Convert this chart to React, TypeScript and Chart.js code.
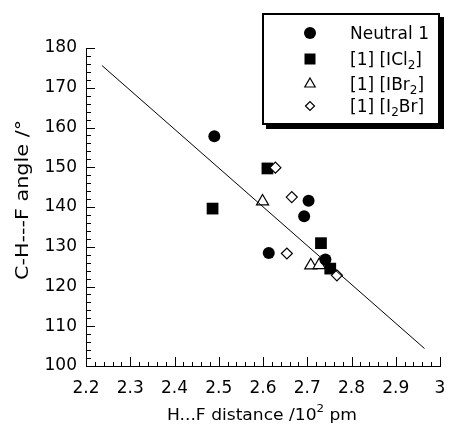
import React, { useEffect, useRef } from 'react';
import { Chart, registerables } from 'chart.js';

Chart.register(...registerables);

// ---- data ----
const neutralX = [2.49, 2.613, 2.703, 2.693, 2.741];
const neutralY = [157.8, 128.4, 141.6, 137.7, 126.8];
const icl2X = [2.486, 2.61, 2.731, 2.752];
const icl2Y = [139.6, 149.7, 130.9, 124.5];
const ibr2X = [2.599, 2.708, 2.727];
const ibr2Y = [141.4, 125.3, 125.4];
const i2brX = [2.628, 2.665, 2.654, 2.767];
const i2brY = [149.9, 142.5, 128.3, 122.8];
const fitX = [2.236, 2.965];
const fitY = [175.6, 104.4];

const xTitleMain = 'H...F distance /10';
const xTitleSup = '2';
const xTitleEnd = ' pm';
const yTitle = 'C-H---F angle /\u00B0';

const legendLabels: [string, string][][] = [
  [['Neutral 1', 'n']],
  [['[1] [ICl', 'n'], ['2', 'sub'], [']', 'n']],
  [['[1] [IBr', 'n'], ['2', 'sub'], [']', 'n']],
  [['[1] [I', 'n'], ['2', 'sub'], ['Br]', 'n']],
];

const FONT = '"DejaVu Sans", "Liberation Sans", Arial, sans-serif';

const toPts = (xs: number[], ys: number[]) => xs.map((x, i) => ({ x, y: ys[i] }));

const decorPlugin = {
  id: 'decor',
  afterDraw(chart: any) {
    const ctx = chart.ctx as CanvasRenderingContext2D;
    const xs = chart.scales.x;
    const ys = chart.scales.y;
    const { left, bottom } = chart.chartArea;
    ctx.save();
    ctx.strokeStyle = '#000';
    ctx.lineWidth = 1;
    // inward ticks x
    for (let i = 0; i <= 40; i++) {
      const v = 2.2 + i * 0.02;
      const px = Math.round(xs.getPixelForValue(v)) + 0.5;
      const len = i % 5 === 0 ? 9 : 4;
      ctx.beginPath();
      ctx.moveTo(px, bottom);
      ctx.lineTo(px, bottom - len);
      ctx.stroke();
    }
    for (let i = 0; i <= 40; i++) {
      const v = 100 + i * 2;
      const py = Math.round(ys.getPixelForValue(v)) + 0.5;
      const len = i % 5 === 0 ? 9 : 5;
      ctx.beginPath();
      ctx.moveTo(left, py);
      ctx.lineTo(left + len, py);
      ctx.stroke();
    }
    // x axis title (stretched to match reference width)
    ctx.fillStyle = '#000';
    ctx.textBaseline = 'alphabetic';
    ctx.textAlign = 'left';
    ctx.font = `16px ${FONT}`;
    const w1 = ctx.measureText(xTitleMain).width;
    ctx.font = `11px ${FONT}`;
    const w2 = ctx.measureText(xTitleSup).width;
    ctx.font = `16px ${FONT}`;
    const w3 = ctx.measureText(xTitleEnd).width;
    const total = w1 + w2 + w3;
    const targetW = 190;
    const sx = targetW / total;
    ctx.save();
    ctx.translate(262 - targetW / 2, 420);
    ctx.scale(sx, 1);
    let tx = 0;
    ctx.fillText(xTitleMain, tx, 0);
    tx += w1;
    ctx.font = `11px ${FONT}`;
    ctx.fillText(xTitleSup, tx, -8);
    tx += w2;
    ctx.font = `16px ${FONT}`;
    ctx.fillText(xTitleEnd, tx, 0);
    ctx.restore();

    // y axis title
    ctx.save();
    ctx.font = `17px ${FONT}`;
    const wy = ctx.measureText(yTitle).width;
    const targetY = 160;
    ctx.translate(28, 200);
    ctx.rotate(-Math.PI / 2);
    ctx.scale(targetY / wy, 1);
    ctx.textAlign = 'center';
    ctx.textBaseline = 'alphabetic';
    ctx.fillText(yTitle, 0, 0);
    ctx.restore();

    // legend box with shadow
    const bx = 262, by = 13, bw = 178, bh = 112;
    ctx.fillStyle = '#000';
    ctx.fillRect(bx + 4, by + 4, bw, bh);
    ctx.fillStyle = '#fff';
    ctx.fillRect(bx, by, bw, bh);
    ctx.lineWidth = 2;
    ctx.strokeStyle = '#000';
    ctx.strokeRect(bx + 1, by + 1, bw - 2, bh - 2);

    const rows = [33, 59, 84, 106];
    const mx = 310;
    ctx.lineWidth = 1.2;
    // circle
    ctx.fillStyle = '#000';
    ctx.beginPath();
    ctx.arc(mx, rows[0], 6, 0, Math.PI * 2);
    ctx.fill();
    // square
    ctx.fillRect(mx - 5.5, rows[1] - 5.5, 11, 11);
    // triangle
    ctx.beginPath();
    const tr = 6;
    ctx.moveTo(mx, rows[2] - tr);
    ctx.lineTo(mx + tr * 0.866, rows[2] + tr / 2);
    ctx.lineTo(mx - tr * 0.866, rows[2] + tr / 2);
    ctx.closePath();
    ctx.fillStyle = '#fff';
    ctx.fill();
    ctx.stroke();
    // diamond
    const dr = 4.5;
    ctx.beginPath();
    ctx.moveTo(mx - dr, rows[3]);
    ctx.lineTo(mx, rows[3] - dr);
    ctx.lineTo(mx + dr, rows[3]);
    ctx.lineTo(mx, rows[3] + dr);
    ctx.closePath();
    ctx.fill();
    ctx.stroke();

    // legend text
    ctx.fillStyle = '#000';
    ctx.textAlign = 'left';
    ctx.textBaseline = 'alphabetic';
    legendLabels.forEach((parts, i) => {
      let x = 350;
      const base = rows[i] + 6;
      parts.forEach(([t, kind]) => {
        if (kind === 'sub') {
          ctx.font = `12px ${FONT}`;
          ctx.fillText(t, x, base + 4);
        } else {
          ctx.font = `17px ${FONT}`;
          ctx.fillText(t, x, base);
        }
        x += ctx.measureText(t).width;
      });
    });
    ctx.restore();
  },
};

export default function App() {
  const ref = useRef<HTMLCanvasElement | null>(null);
  useEffect(() => {
    if (!ref.current) return;
    const chart = new Chart(ref.current, {
      type: 'scatter',
      data: {
        datasets: [
          {
            label: 'fit',
            data: toPts(fitX, fitY),
            showLine: true,
            borderColor: '#000',
            borderWidth: 1,
            pointRadius: 0,
            order: 0,
          } as any,
          {
            label: '[1] [I2Br]',
            data: toPts(i2brX, i2brY),
            pointStyle: 'rectRot',
            pointRadius: 5.5,
            backgroundColor: '#fff',
            borderColor: '#000',
            borderWidth: 1.2,
            order: 1,
          },
          {
            label: '[1] [ICl2]',
            data: toPts(icl2X, icl2Y),
            pointStyle: 'rect',
            pointRadius: 8.3,
            backgroundColor: '#000',
            borderColor: '#000',
            borderWidth: 0,
            order: 2,
          },
          {
            label: 'Neutral 1',
            data: toPts(neutralX, neutralY),
            pointStyle: 'circle',
            pointRadius: 6,
            backgroundColor: '#000',
            borderColor: '#000',
            borderWidth: 0,
            order: 3,
          },
          {
            label: '[1] [IBr2]',
            data: toPts(ibr2X, ibr2Y),
            pointStyle: 'triangle',
            pointRadius: 7,
            backgroundColor: '#fff',
            borderColor: '#000',
            borderWidth: 1.2,
            order: 4,
          },
        ],
      },
      options: {
        animation: false,
        responsive: false,
        maintainAspectRatio: false,
        layout: { padding: { left: 0, top: 48, right: 10, bottom: 0 } },
        plugins: { legend: { display: false }, tooltip: { enabled: false } },
        scales: {
          x: {
            type: 'linear',
            min: 2.2,
            max: 3,
            grid: { display: false, drawTicks: false },
            border: { display: true, color: '#000', width: 1 },
            ticks: {
              stepSize: 0.1,
              color: '#000',
              padding: 12,
              font: { family: FONT, size: 17 },
              callback: (v: any) => String(Number(Number(v).toFixed(1))),
            },
            afterFit: (s: any) => {
              s.height = 59;
              s.paddingLeft = 0;
              s.paddingRight = 0;
            },
          },
          y: {
            type: 'linear',
            min: 100,
            max: 180,
            grid: { display: false, drawTicks: false },
            border: { display: true, color: '#000', width: 1 },
            ticks: {
              stepSize: 10,
              color: '#000',
              padding: 9,
              font: { family: FONT, size: 17 },
            },
            afterFit: (s: any) => {
              s.width = 86;
              s.paddingTop = 0;
              s.paddingBottom = 0;
            },
          },
        },
      },
      plugins: [decorPlugin],
    });
    return () => chart.destroy();
  }, []);
  return (
    <div style={{ position: 'fixed', left: 0, top: 0, width: 450, height: 425, background: '#fff' }}>
      <canvas ref={ref} width={450} height={425} style={{ width: 450, height: 425 }} />
    </div>
  );
}
